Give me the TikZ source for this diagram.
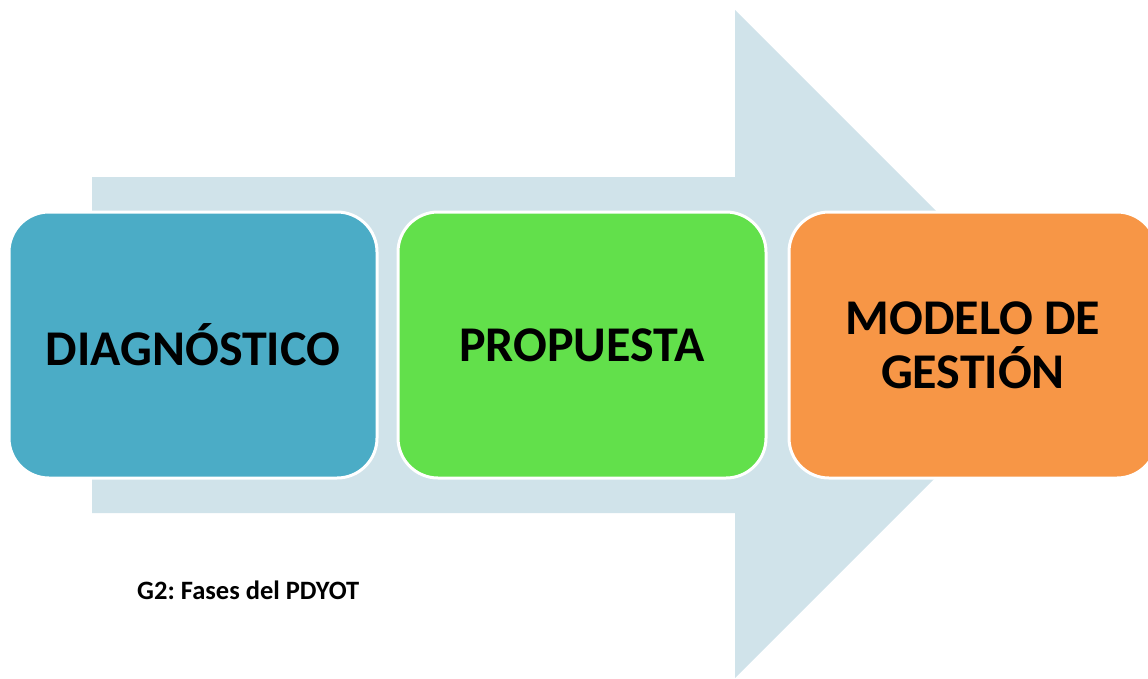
\documentclass[tikz,border=0pt]{standalone}
\usepackage{fontspec}
\setmainfont{Carlito}
\frenchspacing
\definecolor{arrowblue}{HTML}{D0E3EA}
\definecolor{boxblue}{HTML}{4BACC6}
\definecolor{boxgreen}{HTML}{62E04B}
\definecolor{boxorange}{HTML}{F79646}
\begin{document}
\begin{tikzpicture}[x=1pt,y=-1pt,
  phase/.style={draw=white, line width=3pt, rounded corners=40pt,
    minimum width=368pt, minimum height=266pt, inner sep=0pt,
    align=center, font=\fontsize{50}{54}\selectfont\bfseries, text=black},
  caption/.style={font=\fontsize{26.5}{29}\selectfont\bfseries, anchor=west, inner sep=0pt}]
\useasboundingbox (0,0) rectangle (1148,678);
\clip (0,0) rectangle (1148,678);
\fill[arrowblue] (92,177) -- (735,177) -- (735,10) -- (1069,344) -- (735,678) -- (735,513) -- (92,513) -- cycle;
\node[phase, fill=boxblue] (diag) at (193,345) {DIAGN\'OSTICO};
\node[phase, fill=boxgreen] (prop) at (582,345) {PROPUESTA};
\node[phase, fill=boxorange] (mod) at (973,345) {MODELO DE\\GESTI\'ON};
\node[caption] (cap) at (137,590) {G2: Fases del PDYOT};
\end{tikzpicture}
\end{document}
